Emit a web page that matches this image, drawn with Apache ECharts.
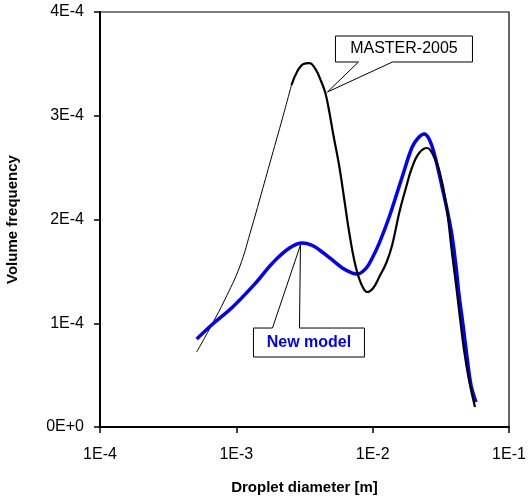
<!DOCTYPE html>
<html>
<head>
<meta charset="utf-8">
<script src="https://cdn.jsdelivr.net/npm/echarts@6/dist/echarts.min.js"></script>
<style>
  html, body { margin: 0; padding: 0; background: #fff; }
  #chart { width: 528px; height: 499px; }
</style>
</head>
<body>
<div id="chart"></div>
<script>
// Droplet diameter [m] and volume frequency for the two size distributions
const masterDiameter = [5.12e-4, 6.71e-4, 8.21e-4, 1.057e-3, 1.294e-3, 1.480e-3, 1.813e-3, 2.182e-3,
  2.538e-3, 2.808e-3, 3.106e-3, 3.437e-3, 3.80e-3, 4.21e-3, 4.50e-3, 4.81e-3, 5.15e-3, 5.70e-3,
  6.20e-3, 6.74e-3, 7.46e-3, 8.25e-3, 9.13e-3, 1.010e-2, 1.118e-2, 1.258e-2, 1.391e-2, 1.565e-2,
  1.761e-2, 1.949e-2, 2.193e-2, 2.508e-2, 2.775e-2, 3.07e-2, 3.45e-2, 3.82e-2, 4.09e-2, 4.37e-2,
  4.68e-2, 5.09e-2, 5.63e-2];
const masterFrequency = [0.723e-4, 1.002e-4, 1.224e-4, 1.542e-4, 1.918e-4, 2.188e-4, 2.602e-4, 2.978e-4,
  3.296e-4, 3.431e-4, 3.499e-4, 3.508e-4, 3.451e-4, 3.325e-4, 3.219e-4, 3.036e-4, 2.814e-4, 2.506e-4,
  2.188e-4, 1.870e-4, 1.561e-4, 1.378e-4, 1.301e-4, 1.340e-4, 1.446e-4, 1.581e-4, 1.754e-4, 2.063e-4,
  2.313e-4, 2.506e-4, 2.641e-4, 2.689e-4, 2.622e-4, 2.477e-4, 2.159e-4, 1.677e-4, 1.369e-4, 1.051e-4,
  0.742e-4, 0.453e-4, 0.193e-4];

const newDiameter = [5.12e-4, 6.71e-4, 9.40e-4, 1.408e-3, 1.844e-3, 2.454e-3, 3.05e-3, 3.56e-3, 4.07e-3,
  5.06e-3, 5.99e-3, 7.09e-3, 7.72e-3, 8.98e-3, 9.93e-3, 1.118e-2, 1.322e-2, 1.646e-2,
  1.949e-2, 2.156e-2, 2.385e-2, 2.594e-2, 2.82e-2, 3.23e-2, 3.76e-2, 4.09e-2, 4.30e-2, 4.60e-2,
  4.92e-2, 5.26e-2, 5.73e-2];
const newFrequency = [0.848e-4, 0.993e-4, 1.157e-4, 1.398e-4, 1.581e-4, 1.725e-4, 1.773e-4, 1.754e-4, 1.706e-4,
  1.610e-4, 1.533e-4, 1.484e-4, 1.475e-4, 1.533e-4, 1.629e-4, 1.773e-4, 2.024e-4, 2.410e-4,
  2.699e-4, 2.786e-4, 2.824e-4, 2.776e-4, 2.641e-4, 2.313e-4, 1.899e-4, 1.542e-4, 1.272e-4, 0.983e-4,
  0.675e-4, 0.405e-4, 0.241e-4];

// Axis ranges and labels
const xTicks = [1e-4, 1e-3, 1e-2, 1e-1];
const yMin = 0, yMax = 4e-4, yStep = 1e-4;
const xTitle = 'Droplet diameter [m]';
const yTitle = 'Volume frequency';

// Callout labels and the curve points they point at
const masterLabel = 'MASTER-2005';
const masterAnchor = [4.66e-3, 3.229e-4];
const newLabel = 'New model';
const newAnchor = [2.954e-3, 1.754e-4];

// The MASTER curve is drawn thin on its rising flank and heavier afterwards
const splitIndex = 8;
const pairs = (xs, ys) => xs.map((x, i) => [x, ys[i]]);
const masterAll = pairs(masterDiameter, masterFrequency);
const masterThin = masterAll.slice(0, splitIndex + 1);
const masterThick = masterAll.slice(splitIndex);
const newModel = pairs(newDiameter, newFrequency);

const FONT = "'Liberation Sans', Arial, sans-serif";
const fmtSci = v => Number(v).toExponential(0).toUpperCase();
const SMOOTH = 0.4;

const chart = echarts.init(document.getElementById('chart'), null, { renderer: 'canvas' });

chart.setOption({
  animation: false,
  backgroundColor: '#fff',
  grid: {
    left: 100, right: 19, top: 12, bottom: 72,
    outerBoundsMode: 'none', containLabel: false,
    show: true, borderColor: '#000', borderWidth: 1.2, backgroundColor: 'transparent'
  },
  xAxis: {
    type: 'log', logBase: 10, min: xTicks[0], max: xTicks[xTicks.length - 1],
    name: xTitle, nameLocation: 'middle', nameGap: 53,
    nameTextStyle: { fontFamily: FONT, fontSize: 15, fontWeight: 'bold', color: '#000' },
    axisLine: { lineStyle: { color: '#000', width: 2 } },
    axisTick: { show: true, length: 6, inside: false, lineStyle: { color: '#000', width: 1.5 } },
    minorTick: { show: false },
    splitLine: { show: false },
    axisLabel: { fontFamily: FONT, fontSize: 16, color: '#000', margin: 20, formatter: fmtSci }
  },
  yAxis: {
    type: 'value', min: yMin, max: yMax, interval: yStep,
    name: yTitle, nameLocation: 'middle', nameGap: 80,
    nameTextStyle: { fontFamily: FONT, fontSize: 15, fontWeight: 'bold', color: '#000' },
    axisLine: { show: true, lineStyle: { color: '#000', width: 2 } },
    axisTick: { show: true, length: 6, inside: false, lineStyle: { color: '#000', width: 1.5 } },
    splitLine: { show: false },
    axisLabel: { fontFamily: FONT, fontSize: 16, color: '#000', margin: 16, formatter: fmtSci }
  },
  series: [
    {
      name: masterLabel, type: 'line', data: masterThin, smooth: SMOOTH,
      symbol: 'none', lineStyle: { color: '#000', width: 1 }, z: 2
    },
    {
      name: newLabel, type: 'line', data: newModel, smooth: SMOOTH,
      symbol: 'none', lineStyle: { color: '#0000ff', width: 3.5 }, z: 3
    },
    {
      name: masterLabel, type: 'line', data: masterThick, smooth: SMOOTH,
      symbol: 'none', lineStyle: { color: '#000', width: 2.2 }, z: 4
    }
  ]
});

// Callout boxes with a pointer tail, positioned from the anchored data points
function callout(anchor, box, tail, text, textStyle) {
  const tip = chart.convertToPixel({ gridIndex: 0 }, anchor);
  const [bx0, by0, bx1, by1] = box.map((v, i) => v + (i % 2 === 0 ? tip[0] : tip[1]));
  const t0 = tail[0] + tip[0], t1 = tail[1] + tip[0], ty = tail[2] + tip[1];
  let pts;
  if (ty <= by0) {
    // tail leaves the top edge
    pts = [[bx0, by0], [t0, by0], tip, [t1, by0], [bx1, by0], [bx1, by1], [bx0, by1]];
  } else {
    // tail leaves the bottom edge
    pts = [[bx0, by0], [bx1, by0], [bx1, by1], [t1, by1], tip, [t0, by1], [bx0, by1]];
  }
  return [
    {
      type: 'polygon', z: 50,
      shape: { points: pts },
      style: { fill: '#fff', stroke: '#000', lineWidth: 1 }
    },
    {
      type: 'text', z: 51,
      x: (bx0 + bx1) / 2, y: (by0 + by1) / 2,
      style: Object.assign({
        text: text, align: 'center', verticalAlign: 'middle', fontFamily: FONT, fontSize: 16
      }, textStyle)
    }
  ];
}

chart.setOption({
  graphic: [
    ...callout(masterAnchor, [8, -56, 145, -30], [31, 65, -30], masterLabel,
      { fill: '#000' }),
    ...callout(newAnchor, [-47, 83, 64, 112], [-28, -1, 83], newLabel,
      { fill: '#0000ff', fontWeight: 'bold' })
  ]
});
</script>
</body>
</html>
